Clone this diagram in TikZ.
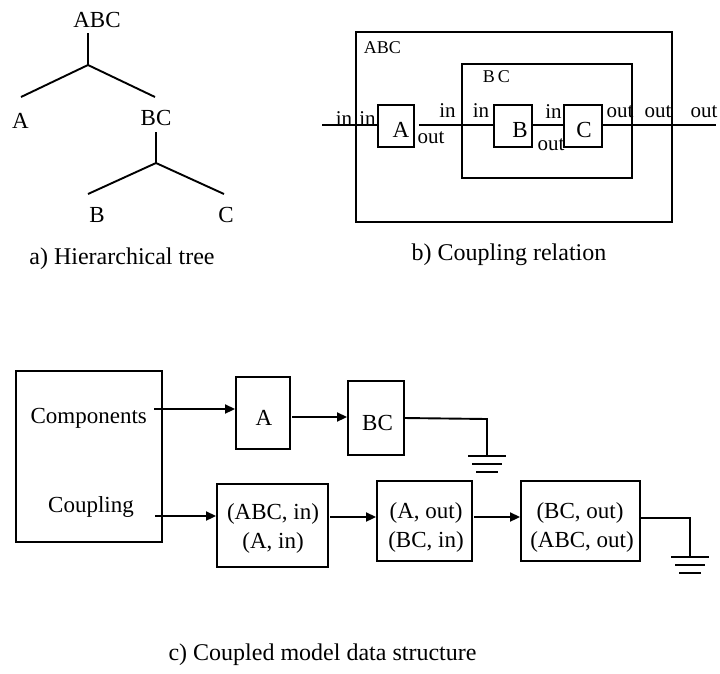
\documentclass[tikz,border=0pt]{standalone}
\usepackage{fontspec}
\setmainfont{Liberation Serif}
\usetikzlibrary{arrows.meta,calc}

\begin{document}
\begin{tikzpicture}[x=1pt,y=-1pt,line width=1.9pt,
  lbl/.style={inner sep=0pt,anchor=base,font=\fontsize{23}{23}\selectfont},
  captxt/.style={inner sep=0pt,anchor=base,font=\fontsize{24}{24}\selectfont},
  port/.style={inner sep=0pt,anchor=base,font=\fontsize{21}{21}\selectfont},
  tag/.style={inner sep=0pt,anchor=base west,font=\fontsize{18}{18}\selectfont},
  blk/.style={draw,inner sep=0pt},
  arr/.style={-{Triangle[length=10pt,width=9pt]}},
  ground/.pic={
    \draw (-19,0) -- (19,0);
    \draw (-15,8) -- (15,8);
    \draw (-11,16) -- (11,16);
  }]
\useasboundingbox (0,0) rectangle (720,673);

% ---------- a) hierarchical tree ----------
\node[lbl] (tABC) at (97,27) {ABC};
\node[lbl] (tA)   at (20.5,128) {A};
\node[lbl] (tBC)  at (156,125) {BC};
\node[lbl] (tB)   at (97,222) {B};
\node[lbl] (tC)   at (226,222) {C};
\coordinate (j1top) at (88,33);
\coordinate (j1)    at (88,65);
\coordinate (l1)    at (21,97);
\coordinate (r1)    at (155,97);
\coordinate (j2top) at (156,132);
\coordinate (j2)    at (156,163);
\coordinate (l2)    at (88,194);
\coordinate (r2)    at (224,194);
\draw (j1top) -- (j1) -- (l1);
\draw (j1) -- (r1);
\draw (j2top) -- (j2) -- (l2);
\draw (j2) -- (r2);
\node[captxt] (capa) at (122,264) {a) Hierarchical tree};

% ---------- b) coupling relation ----------
\node[blk,minimum width=316pt,minimum height=190pt] (oABC) at (514,127) {};
\node[tag] (nABC) at (363,53) {ABC};
\node[blk,minimum width=170pt,minimum height=114pt] (oBC) at (547,121) {};
\node[tag] (nBC) at (482,82) {B\kern3pt C};
\node[blk,minimum width=36pt,minimum height=42pt] (bA) at (396,126) {};
\node[blk,minimum width=38pt,minimum height=42pt] (bB) at (513,126) {};
\node[blk,minimum width=38pt,minimum height=42pt] (bC) at (583,126) {};
\node[lbl] at (401,137) {A};
\node[lbl] at (520,137) {B};
\node[lbl] at (584,137) {C};
\coordinate (win)  at (322,125);
\coordinate (wout) at (716,125);
\draw (win) -- (win -| bA.west);
\draw ($(bA.east |- win)+(4,0)$) -- (win -| bB.west);
\draw (win -| bB.east) -- (win -| bC.west);
\draw (win -| bC.east) -- (wout);
\node[port] at (344,125) {in};
\node[port] at (367.5,125) {in};
\node[port] at (447.5,117) {in};
\node[port] at (431,143) {out};
\node[port] at (481,117) {in};
\node[port] at (553.5,118) {in};
\node[port] at (551,150) {out};
\node[port] at (620,117) {out};
\node[port] at (658,117) {out};
\node[port] at (704,117) {out};
\node[captxt] (capb) at (509,260) {b) Coupling relation};

% ---------- c) coupled model data structure ----------
\node[blk,minimum width=146pt,minimum height=171pt] (model) at (89,456.5) {};
\node[lbl] (comp) at (88.7,423) {Components};
\node[lbl] (coup) at (91,512) {Coupling};

\node[blk,minimum width=54pt,minimum height=72pt] (cA) at (263,413) {};
\node[lbl] at (264,425) {A};
\node[blk,minimum width=56pt,minimum height=74pt] (cBC) at (376,418) {};
\node[lbl] at (377.5,430) {BC};

\coordinate (s1) at (154,409);
\draw[arr] (s1) -- (s1 -| cA.west);
\coordinate (s2) at (292,417);
\draw[arr] (s2) -- (s2 -| cBC.west);
\coordinate (g1) at (487,419);
\coordinate (e1) at (404,418);
\draw (e1) -- (g1) -- ++(0,37) coordinate (g1b);
\pic at (g1b) {ground};

\node[blk,minimum width=111pt,minimum height=83pt] (k1) at (272.5,525.5) {};
\node[lbl] at (273,519) {(ABC, in)};
\node[lbl] at (273,548) {(A, in)};
\node[blk,minimum width=95pt,minimum height=80pt] (k2) at (424.5,521) {};
\node[lbl] at (426,518) {(A, out)};
\node[lbl] at (426,547) {(BC, in)};
\node[blk,minimum width=119pt,minimum height=80pt] (k3) at (580.5,521) {};
\node[lbl] at (580,518) {(BC, out)};
\node[lbl] at (582,547) {(ABC, out)};

\coordinate (s3) at (155,516);
\draw[arr] (s3) -- (s3 -| k1.west);
\coordinate (s4) at (330,517);
\draw[arr] (s4) -- (s4 -| k2.west);
\coordinate (s5) at (474,517);
\draw[arr] (s5) -- (s5 -| k3.west);
\coordinate (g2) at (690,518);
\draw (k3.east |- g2) -- (g2) -- ++(0,39) coordinate (g2b);
\pic at (g2b) {ground};

\node[captxt] (capc) at (322.5,660) {c) Coupled model data structure};
\end{tikzpicture}
\end{document}
